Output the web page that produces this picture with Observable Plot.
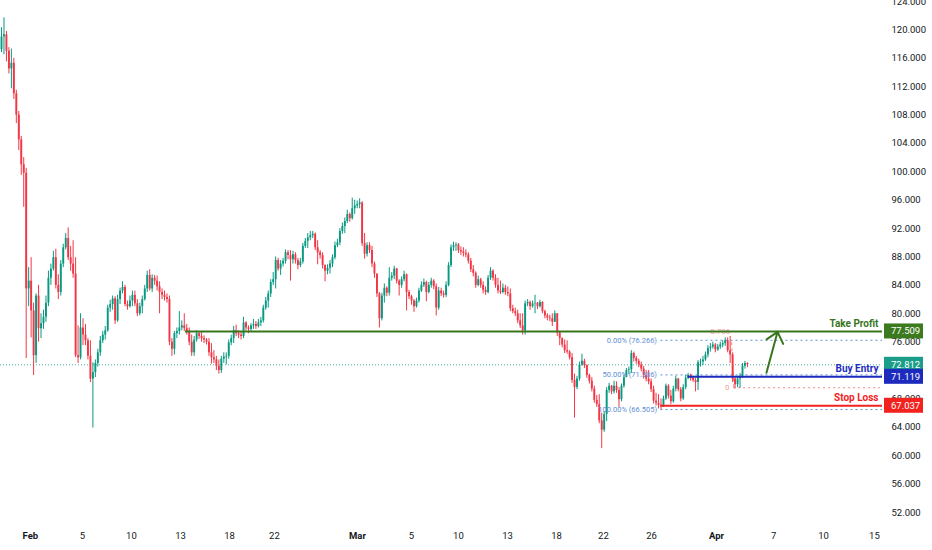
<!DOCTYPE html>
<html><head><meta charset="utf-8">
<script src="https://cdn.jsdelivr.net/npm/d3@7"></script>
<script src="https://cdn.jsdelivr.net/npm/@observablehq/plot@0.6"></script>
<style>html,body{margin:0;padding:0;background:#fff;} svg{display:block}</style>
</head><body><div id="chart"></div>
<script>
// ---- candle data (bar index order) ----
const firstOpen = 117.2;
const closes = [
119.0,119.3,117.0,114.5,115.3,111.0,108.0,104.5,101.0,99.8,
83.5,84.6,80.4,74.1,82.5,77.9,78.6,79.5,81.5,85.0,
86.3,87.9,84.0,83.0,87.0,89.3,90.6,87.9,87.0,85.6,
74.1,73.8,78.0,77.0,76.2,74.0,70.8,71.7,73.0,74.5,
76.2,77.0,77.6,80.8,81.3,82.1,79.0,82.0,83.2,83.7,
81.3,81.0,81.8,82.6,81.4,80.0,81.0,82.0,83.5,85.4,
83.5,85.0,84.6,83.8,83.0,82.6,82.3,82.0,76.0,75.0,
77.2,77.5,78.0,78.3,77.9,77.4,76.0,74.5,76.3,77.2,
76.8,76.5,76.3,76.0,74.5,73.8,73.5,72.6,72.0,73.6,
73.9,74.0,75.9,76.5,77.6,77.2,77.0,76.8,78.7,78.0,
77.8,78.3,78.5,78.2,78.7,79.0,80.8,81.8,82.8,84.4,
84.8,87.5,86.3,87.0,87.4,88.6,88.2,87.6,88.3,87.5,
86.8,87.3,89.5,90.2,90.7,91.0,91.2,89.3,88.6,88.2,
86.8,86.0,86.4,87.0,87.9,89.6,90.0,91.6,92.3,93.0,
94.0,93.4,94.8,95.2,95.4,95.6,89.9,88.4,89.6,88.9,
87.0,85.6,82.8,79.3,82.5,83.6,82.9,85.0,85.3,86.3,
84.6,84.0,84.8,85.5,83.0,82.4,81.8,81.0,81.8,83.2,
84.0,84.4,83.0,84.0,84.6,83.8,80.8,83.2,82.8,82.6,
84.0,86.8,89.3,89.6,89.7,88.9,88.7,88.5,88.3,87.4,
86.2,85.7,84.0,84.8,84.0,83.3,83.0,85.0,86.0,85.0,
84.0,83.2,83.0,83.6,83.0,82.8,80.7,80.3,80.0,79.0,
78.3,77.6,81.4,81.6,81.0,81.4,81.5,81.0,81.6,80.3,
79.7,79.4,79.3,78.8,80.0,77.3,76.5,75.6,74.8,74.6,
73.8,70.6,69.6,70.8,72.8,73.3,72.7,71.3,70.5,69.4,
67.8,67.2,64.9,63.6,65.8,69.2,69.8,69.0,69.8,69.2,
67.9,69.8,71.0,72.0,72.1,74.4,73.7,73.3,72.8,72.2,
71.3,70.8,70.4,69.3,67.7,67.4,67.1,66.9,68.0,69.8,
68.4,67.6,69.4,70.8,69.3,68.0,69.6,70.9,71.3,70.9,
70.6,70.3,73.1,73.2,73.5,74.2,75.1,75.3,75.6,74.9,
75.3,75.6,75.8,76.2,74.8,74.2,70.8,70.0,70.8,71.2,
72.6,73.0,72.812];
const highs = [
120.3,121.7,119.8,117.5,117.3,116.0,111.5,108.5,105.0,102.0,
100.5,86.5,87.9,81.5,82.8,84.0,80.0,80.5,82.5,86.0,
87.0,88.8,89.1,85.5,87.5,89.8,91.3,92.1,89.5,90.3,
87.9,78.3,80.0,79.3,78.5,76.5,76.2,73.1,73.5,75.0,
76.8,77.5,78.2,81.2,81.9,82.5,82.4,82.6,83.6,84.5,
84.0,81.8,82.5,83.2,83.2,82.0,81.5,82.5,84.0,86.0,
86.2,85.5,85.4,85.3,84.5,83.5,83.2,82.8,82.5,76.5,
77.5,78.0,80.3,79.0,80.0,78.5,78.0,77.0,76.8,77.6,
77.5,77.5,76.9,76.5,76.5,75.8,74.8,74.0,73.5,74.0,
74.5,74.5,76.3,77.0,78.2,78.4,77.6,77.4,79.5,78.9,
78.3,78.6,79.2,78.9,79.2,79.5,81.2,82.3,83.2,84.8,
85.8,88.0,87.8,87.5,87.8,89.0,88.9,88.9,88.8,88.6,
87.8,87.8,89.9,90.6,91.3,91.6,91.6,91.4,90.3,88.9,
88.6,86.9,86.9,87.5,88.3,90.1,90.5,92.0,92.8,93.5,
94.6,94.2,96.3,96.0,95.9,96.2,95.8,91.3,90.0,90.0,
89.5,87.3,85.6,83.0,82.9,84.2,83.8,86.5,85.8,86.7,
86.4,84.8,85.2,86.0,85.6,83.3,82.6,82.0,82.2,83.6,
84.5,84.9,84.6,84.4,85.0,84.8,84.2,83.7,83.6,83.2,
84.5,87.2,89.7,90.1,90.0,89.9,89.4,89.3,89.0,88.6,
87.8,86.8,85.9,85.3,85.0,84.5,83.8,85.4,86.5,86.2,
85.5,85.0,84.6,84.2,84.0,83.8,83.5,81.2,80.8,80.5,
80.0,80.0,81.8,82.0,81.8,81.8,82.6,81.6,81.9,81.7,
80.5,80.0,79.8,80.0,80.4,80.0,77.5,76.6,76.3,76.2,
74.8,74.4,71.5,71.2,73.2,74.3,73.6,72.8,71.5,71.0,
69.8,68.5,68.6,66.0,66.2,69.6,70.2,69.9,70.5,70.4,
69.6,70.1,71.4,72.3,72.5,74.8,74.6,74.0,73.6,73.2,
72.6,72.0,72.0,70.8,69.8,68.8,68.6,68.0,68.4,70.1,
70.0,69.2,69.8,71.2,70.9,69.6,70.0,71.3,71.6,71.5,
71.2,70.9,73.4,73.6,74.0,74.6,75.5,75.8,76.0,75.8,
75.7,76.0,76.2,76.6,76.6,76.8,74.5,71.0,71.2,71.6,
73.0,73.3,73.1];
const lows = [
116.8,116.5,115.5,113.8,111.7,110.2,106.8,103.0,99.5,95.0,
73.7,81.0,76.6,71.3,73.0,76.0,76.5,77.8,78.8,81.0,
84.0,86.0,83.5,82.0,82.5,86.5,89.0,87.5,86.0,85.0,
73.8,73.0,73.5,75.5,75.5,73.5,70.3,63.9,71.0,72.5,
74.0,75.8,76.3,77.4,80.2,80.5,78.5,78.8,81.3,82.8,
81.0,80.5,80.8,81.0,81.0,79.6,79.7,80.0,81.8,83.0,
83.2,83.0,84.0,83.2,80.0,82.0,81.8,81.5,75.5,74.0,
74.2,76.5,77.0,77.6,77.5,77.0,75.5,74.0,74.0,76.0,
76.4,76.0,75.8,75.6,74.0,72.9,73.0,72.0,71.5,71.6,
73.0,72.8,73.6,75.5,75.8,76.8,76.5,76.3,76.5,77.6,
77.2,77.4,77.8,77.8,78.0,78.2,78.7,80.5,80.8,82.3,
84.0,83.5,86.0,85.4,86.6,87.0,87.6,84.6,87.0,87.0,
86.2,86.5,87.0,89.2,89.2,90.3,90.6,88.9,86.9,87.7,
86.3,84.5,85.5,85.6,86.5,87.6,89.3,89.6,91.2,91.3,
92.7,92.9,93.2,94.0,94.8,94.8,89.5,87.7,88.0,88.5,
86.5,85.0,82.3,78.0,79.0,81.5,82.4,82.5,84.6,84.8,
84.2,82.5,83.6,84.5,80.4,82.0,81.2,80.2,80.8,81.5,
83.0,83.7,81.7,82.8,83.6,83.4,79.7,80.5,82.4,82.2,
82.3,83.8,86.5,88.8,88.8,88.5,88.2,88.0,87.9,87.0,
85.8,85.2,83.6,83.8,83.6,82.8,82.6,82.8,84.7,84.6,
83.6,82.8,82.7,82.8,82.6,82.4,80.3,80.0,79.6,78.6,
77.9,77.0,77.0,81.0,80.5,80.8,80.0,80.6,80.8,80.0,
79.3,79.0,78.9,78.2,78.8,76.8,75.5,75.2,74.4,74.3,
73.5,70.2,65.3,69.3,70.5,72.6,72.3,70.9,70.1,69.0,
67.4,66.8,64.5,61.0,63.3,64.8,68.8,68.6,68.7,68.8,
66.8,67.6,69.5,71.0,71.4,71.6,73.2,72.9,72.4,71.8,
70.8,70.4,70.0,68.9,67.3,67.0,66.6,66.5,66.8,67.8,
68.0,67.2,67.4,69.0,69.0,67.6,67.8,69.3,70.7,70.5,
70.3,69.0,69.2,72.5,72.7,73.3,73.8,74.6,75.0,74.5,
74.7,75.0,75.2,75.4,74.5,73.0,70.3,69.4,69.6,69.5,
70.9,72.2,72.4];

// ---- axes ----
const yTicks = [124,120,116,112,108,104,100,96,92,88,84,80,76,68,64,60,56,52];
const dayTickPos = [32.8,52.6,72.5,92.3,110.5,166,185,204.9,224.7,243.7,263.2,312.6,332.8,353.4];
const dayTickLabels = ["5","10","13","18","22","5","10","13","18","22","26","7","10","15"];
const monthTickPos = [11.7,144.1,289.5];
const monthTickLabels = ["Feb","Mar","Apr"];

// ---- annotations ----
const currentPrice = 72.812;
const levelNames = ["Take Profit","Buy Entry","Stop Loss"];
const levelValues = [77.509,71.119,67.037];
const levelStarts = [74.5,278,267];
const levelColors = ["#38761d","#1c2bbd","#f2221e"];
const fibValues = [76.266,71.386,66.505];
const fibLabels = ["0.00% (76.266)","50.00% (71.386)","100.00% (66.505)"];
const fibStart = 267;
const pinkLevel = 69.58;
const pinkStart = 296.4;
const pinkTopLabel = "0.786";
const pinkTopPos = 291;
const pinkLink = [{x1:295.6,y1:76.0,x2:296.5,y2:69.58}];
const arrowData = [{x1:309.7,y1:71.69,x2:314.2,y2:77.46}];
const boxValues = [77.509,72.812,71.119,67.037];
const boxColors = ["#3b7a1f","#1b9e89","#1c2bbd","#f2221e"];

const UP = "#089981", DOWN = "#f23645";
const XMAX = 356.68;
const bars = closes.map((c,i)=>({i, o: i===0 ? firstOpen : closes[i-1], c, h: highs[i], l: lows[i]}));
const colorOf = d => d.c >= d.o ? UP : DOWN;
const L = levelValues.map((v,k)=>k);
const F = fibValues.map((v,k)=>k);

const chart = Plot.plot({
  width: 932, height: 550,
  marginLeft: 0, marginRight: 50, marginTop: 1, marginBottom: 38,
  x: {domain: [-0.405, XMAX], axis: null},
  y: {domain: [52, 124], axis: null},
  color: {type: "identity"},
  style: {fontFamily: "Roboto, sans-serif", background: "#fff", overflow: "visible"},
  marks: [
    Plot.ruleY([currentPrice], {stroke: UP, strokeDasharray: "1,2", strokeWidth: 1, strokeOpacity: 0.75}),
    Plot.ruleY(F, {y: k=>fibValues[k], x1: fibStart, x2: XMAX, stroke: "#5b8fd6", strokeDasharray: "2,3", strokeWidth: 1}),
    Plot.ruleY([pinkLevel], {x1: pinkStart, x2: XMAX, stroke: "#f08a8a", strokeDasharray: "2,3", strokeWidth: 1}),
    Plot.link(pinkLink, {x1:"x1", y1:"y1", x2:"x2", y2:"y2", stroke: "#f08a8a", strokeDasharray: "3,3", strokeWidth: 1}),
    Plot.ruleX(bars, {x: "i", y1: "l", y2: "h", stroke: colorOf, strokeWidth: 1}),
    Plot.ruleX(bars, {x: "i", y1: "o", y2: "c", stroke: colorOf, strokeWidth: 1.9}),
    Plot.text([pinkTopLabel], {x: pinkTopPos, y: levelValues[0], text: d=>d, fill: "#f4a09a", fontSize: 8}),
    Plot.ruleY(L, {y: k=>levelValues[k], x1: k=>levelStarts[k], x2: XMAX, stroke: k=>levelColors[k], strokeWidth: 2}),
    Plot.text(L, {y: k=>levelValues[k], text: k=>levelNames[k], fill: k=>levelColors[k], frameAnchor: "right", textAnchor: "end", dx: -4, dy: -8, fontSize: 10, fontWeight: "bold"}),
    Plot.text(F, {x: fibStart, y: k=>fibValues[k], text: k=>fibLabels[k], fill: "#5b8fd6", textAnchor: "end", dx: -4, fontSize: 7.5}),
    Plot.text(["0"], {x: pinkStart, y: pinkLevel, text: d=>d, fill: "#f4a09a", textAnchor: "end", dx: -4, fontSize: 8}),
    Plot.arrow(arrowData, {x1:"x1", y1:"y1", x2:"x2", y2:"y2", stroke: "#38761d", strokeWidth: 2, headLength: 10, headAngle: 80}),
    Plot.text(dayTickPos, {x: d=>d, text: (d,k)=>dayTickLabels[k], frameAnchor: "bottom", dy: 26, fill: "#131722", fontSize: 9.5}),
    Plot.text(monthTickPos, {x: d=>d, text: (d,k)=>monthTickLabels[k], frameAnchor: "bottom", dy: 26, fill: "#131722", fontSize: 9.5, fontWeight: "bold"}),
    Plot.text(yTicks, {y: d=>d, text: d=>d.toFixed(3), frameAnchor: "right", textAnchor: "start", dx: 9, fill: "#131722", fontSize: 9.5})
  ]
});
document.getElementById("chart").appendChild(chart);

// price label boxes on the price axis, positioned through Plot's y scale
const yScale = chart.scale("y");
const svg = d3.select(chart);
const boxG = svg.append("g").attr("text-anchor", "start");
boxValues.forEach((v,k)=>{
  const yy = yScale.apply(v);
  boxG.append("rect").attr("x", 884).attr("y", yy - 7.5).attr("width", 39).attr("height", 15).attr("fill", boxColors[k]);
});
boxValues.forEach((v,k)=>{
  const yy = yScale.apply(v);
  boxG.append("text").attr("x", 891).attr("y", yy).attr("dy", "0.35em").attr("text-anchor", "start")
    .attr("fill", "#fff").attr("font-size", 9.5).attr("font-family", "Roboto, sans-serif")
    .text(v.toFixed(3));
});
</script>
</body></html>
